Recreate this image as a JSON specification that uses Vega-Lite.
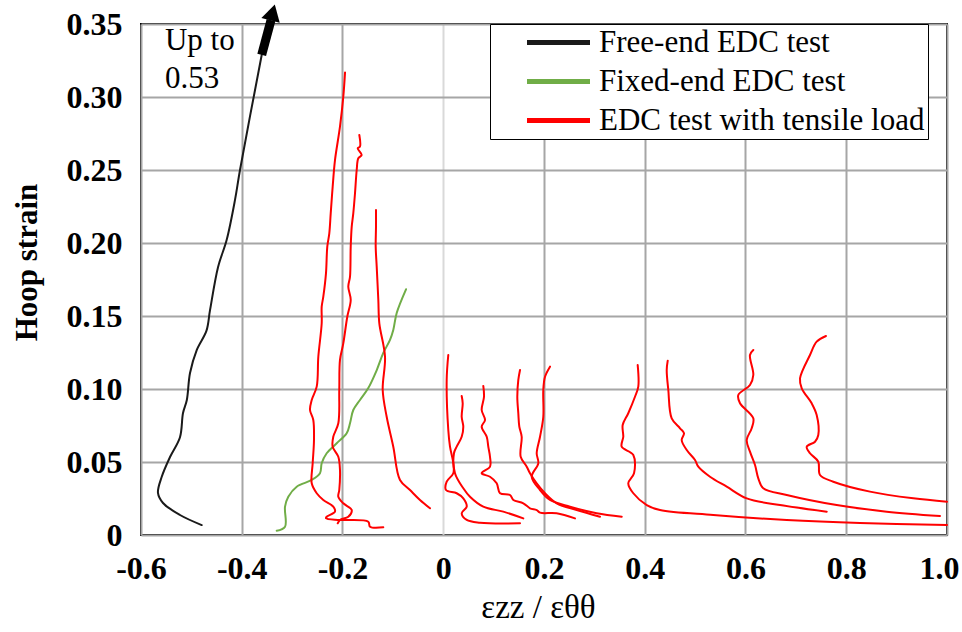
{
  "$schema": "https://vega.github.io/schema/vega-lite/v6.json",
  "autosize": {"type": "none"},
  "width": 806,
  "height": 511,
  "padding": {"left": 141, "top": 24, "right": 15, "bottom": 97},
  "background": "white",
  "config": {
    "view": {"stroke": "black", "strokeWidth": 2},
    "font": "'Liberation Serif', 'Times New Roman', serif"
  },
  "datasets": {
    "curves": [
      {"s":"Free-end EDC test","c":"k","i":1,"x":-0.3604,"y":0.3288},
      {"s":"Free-end EDC test","c":"k","i":2,"x":-0.4035,"y":0.25},
      {"s":"Free-end EDC test","c":"k","i":3,"x":-0.4134,"y":0.2295},
      {"s":"Free-end EDC test","c":"k","i":4,"x":-0.430,"y":0.202},
      {"s":"Free-end EDC test","c":"k","i":5,"x":-0.447,"y":0.1836},
      {"s":"Free-end EDC test","c":"k","i":6,"x":-0.463,"y":0.154},
      {"s":"Free-end EDC test","c":"k","i":7,"x":-0.470,"y":0.140},
      {"s":"Free-end EDC test","c":"k","i":8,"x":-0.4894,"y":0.1267},
      {"s":"Free-end EDC test","c":"k","i":9,"x":-0.5027,"y":0.111},
      {"s":"Free-end EDC test","c":"k","i":10,"x":-0.509,"y":0.0925},
      {"s":"Free-end EDC test","c":"k","i":11,"x":-0.5166,"y":0.0836},
      {"s":"Free-end EDC test","c":"k","i":12,"x":-0.5226,"y":0.067},
      {"s":"Free-end EDC test","c":"k","i":13,"x":-0.5424,"y":0.0534},
      {"s":"Free-end EDC test","c":"k","i":14,"x":-0.559,"y":0.0397},
      {"s":"Free-end EDC test","c":"k","i":15,"x":-0.5663,"y":0.0288},
      {"s":"Free-end EDC test","c":"k","i":16,"x":-0.5563,"y":0.0219},
      {"s":"Free-end EDC test","c":"k","i":17,"x":-0.5226,"y":0.0137},
      {"s":"Free-end EDC test","c":"k","i":18,"x":-0.4795,"y":0.0068},

      {"s":"Fixed-end EDC test","c":"g","i":1,"x":-0.0739,"y":0.1683},
      {"s":"Fixed-end EDC test","c":"g","i":2,"x":-0.0924,"y":0.1521},
      {"s":"Fixed-end EDC test","c":"g","i":3,"x":-0.0992,"y":0.1404},
      {"s":"Fixed-end EDC test","c":"g","i":4,"x":-0.1057,"y":0.1336},
      {"s":"Fixed-end EDC test","c":"g","i":5,"x":-0.119,"y":0.1247},
      {"s":"Fixed-end EDC test","c":"g","i":6,"x":-0.132,"y":0.113},
      {"s":"Fixed-end EDC test","c":"g","i":7,"x":-0.1488,"y":0.1007},
      {"s":"Fixed-end EDC test","c":"g","i":8,"x":-0.1653,"y":0.0925},
      {"s":"Fixed-end EDC test","c":"g","i":9,"x":-0.1786,"y":0.0856},
      {"s":"Fixed-end EDC test","c":"g","i":10,"x":-0.1851,"y":0.0765},
      {"s":"Fixed-end EDC test","c":"g","i":11,"x":-0.1917,"y":0.0697},
      {"s":"Fixed-end EDC test","c":"g","i":12,"x":-0.2115,"y":0.0628},
      {"s":"Fixed-end EDC test","c":"g","i":13,"x":-0.2314,"y":0.056},
      {"s":"Fixed-end EDC test","c":"g","i":14,"x":-0.2413,"y":0.0491},
      {"s":"Fixed-end EDC test","c":"g","i":15,"x":-0.2447,"y":0.0423},
      {"s":"Fixed-end EDC test","c":"g","i":16,"x":-0.2611,"y":0.0377},
      {"s":"Fixed-end EDC test","c":"g","i":17,"x":-0.2909,"y":0.0331},
      {"s":"Fixed-end EDC test","c":"g","i":18,"x":-0.3076,"y":0.0262},
      {"s":"Fixed-end EDC test","c":"g","i":19,"x":-0.3141,"y":0.0194},
      {"s":"Fixed-end EDC test","c":"g","i":20,"x":-0.3141,"y":0.0057},
      {"s":"Fixed-end EDC test","c":"g","i":21,"x":-0.3306,"y":0.0029},

      {"s":"EDC test with tensile load","c":"A","i":1,"x":-0.1950,"y":0.3167},
      {"s":"EDC test with tensile load","c":"A","i":2,"x":-0.1984,"y":0.3002},
      {"s":"EDC test with tensile load","c":"A","i":3,"x":-0.2050,"y":0.2797},
      {"s":"EDC test with tensile load","c":"A","i":4,"x":-0.2149,"y":0.2568},
      {"s":"EDC test with tensile load","c":"A","i":5,"x":-0.2195,"y":0.2386},
      {"s":"EDC test with tensile load","c":"A","i":6,"x":-0.2234,"y":0.2203},
      {"s":"EDC test with tensile load","c":"A","i":7,"x":-0.2262,"y":0.2066},
      {"s":"EDC test with tensile load","c":"A","i":8,"x":-0.2302,"y":0.1975},
      {"s":"EDC test with tensile load","c":"A","i":9,"x":-0.2328,"y":0.1792},
      {"s":"EDC test with tensile load","c":"A","i":10,"x":-0.2381,"y":0.1632},
      {"s":"EDC test with tensile load","c":"A","i":11,"x":-0.2413,"y":0.1564},
      {"s":"EDC test with tensile load","c":"A","i":12,"x":-0.2413,"y":0.1450},
      {"s":"EDC test with tensile load","c":"A","i":13,"x":-0.2480,"y":0.1221},
      {"s":"EDC test with tensile load","c":"A","i":14,"x":-0.2512,"y":0.1016},
      {"s":"EDC test with tensile load","c":"A","i":15,"x":-0.2611,"y":0.0925},
      {"s":"EDC test with tensile load","c":"A","i":16,"x":-0.2645,"y":0.0856},
      {"s":"EDC test with tensile load","c":"A","i":17,"x":-0.2580,"y":0.0788},
      {"s":"EDC test with tensile load","c":"A","i":18,"x":-0.2566,"y":0.0651},
      {"s":"EDC test with tensile load","c":"A","i":19,"x":-0.2592,"y":0.0491},
      {"s":"EDC test with tensile load","c":"A","i":20,"x":-0.2611,"y":0.0354},
      {"s":"EDC test with tensile load","c":"A","i":21,"x":-0.2512,"y":0.0286},
      {"s":"EDC test with tensile load","c":"A","i":22,"x":-0.2381,"y":0.0240},
      {"s":"EDC test with tensile load","c":"A","i":23,"x":-0.2183,"y":0.0194},
      {"s":"EDC test with tensile load","c":"A","i":24,"x":-0.2149,"y":0.0160},
      {"s":"EDC test with tensile load","c":"A","i":25,"x":-0.2314,"y":0.0125},
      {"s":"EDC test with tensile load","c":"A","i":26,"x":-0.2328,"y":0.0114},
      {"s":"EDC test with tensile load","c":"A","i":27,"x":-0.2050,"y":0.0103},
      {"s":"EDC test with tensile load","c":"A","i":28,"x":-0.1488,"y":0.0091},
      {"s":"EDC test with tensile load","c":"A","i":29,"x":-0.1454,"y":0.0057},
      {"s":"EDC test with tensile load","c":"A","i":30,"x":-0.1190,"y":0.0053},

      {"s":"EDC test with tensile load","c":"B","i":1,"x":-0.1666,"y":0.2740},
      {"s":"EDC test with tensile load","c":"B","i":2,"x":-0.1653,"y":0.2660},
      {"s":"EDC test with tensile load","c":"B","i":3,"x":-0.1698,"y":0.2649},
      {"s":"EDC test with tensile load","c":"B","i":4,"x":-0.1619,"y":0.2603},
      {"s":"EDC test with tensile load","c":"B","i":5,"x":-0.1686,"y":0.2580},
      {"s":"EDC test with tensile load","c":"B","i":6,"x":-0.1718,"y":0.2500},
      {"s":"EDC test with tensile load","c":"B","i":7,"x":-0.1752,"y":0.2340},
      {"s":"EDC test with tensile load","c":"B","i":8,"x":-0.1786,"y":0.2203},
      {"s":"EDC test with tensile load","c":"B","i":9,"x":-0.1817,"y":0.2112},
      {"s":"EDC test with tensile load","c":"B","i":10,"x":-0.1837,"y":0.1975},
      {"s":"EDC test with tensile load","c":"B","i":11,"x":-0.1851,"y":0.1769},
      {"s":"EDC test with tensile load","c":"B","i":12,"x":-0.1885,"y":0.1701},
      {"s":"EDC test with tensile load","c":"B","i":13,"x":-0.1837,"y":0.1610},
      {"s":"EDC test with tensile load","c":"B","i":14,"x":-0.1905,"y":0.1495},
      {"s":"EDC test with tensile load","c":"B","i":15,"x":-0.1984,"y":0.1313},
      {"s":"EDC test with tensile load","c":"B","i":16,"x":-0.2050,"y":0.1199},
      {"s":"EDC test with tensile load","c":"B","i":17,"x":-0.2064,"y":0.0993},
      {"s":"EDC test with tensile load","c":"B","i":18,"x":-0.2083,"y":0.0765},
      {"s":"EDC test with tensile load","c":"B","i":19,"x":-0.2183,"y":0.0673},
      {"s":"EDC test with tensile load","c":"B","i":20,"x":-0.2195,"y":0.0605},
      {"s":"EDC test with tensile load","c":"B","i":21,"x":-0.2083,"y":0.0536},
      {"s":"EDC test with tensile load","c":"B","i":22,"x":-0.2050,"y":0.0445},
      {"s":"EDC test with tensile load","c":"B","i":23,"x":-0.2064,"y":0.0308},
      {"s":"EDC test with tensile load","c":"B","i":24,"x":-0.2083,"y":0.0262},
      {"s":"EDC test with tensile load","c":"B","i":25,"x":-0.1984,"y":0.0217},
      {"s":"EDC test with tensile load","c":"B","i":26,"x":-0.1817,"y":0.0171},
      {"s":"EDC test with tensile load","c":"B","i":27,"x":-0.1885,"y":0.0125},
      {"s":"EDC test with tensile load","c":"B","i":28,"x":-0.2050,"y":0.0103},
      {"s":"EDC test with tensile load","c":"B","i":29,"x":-0.2095,"y":0.0080},

      {"s":"EDC test with tensile load","c":"C","i":1,"x":-0.1335,"y":0.2226},
      {"s":"EDC test with tensile load","c":"C","i":2,"x":-0.1335,"y":0.2112},
      {"s":"EDC test with tensile load","c":"C","i":3,"x":-0.1341,"y":0.1975},
      {"s":"EDC test with tensile load","c":"C","i":4,"x":-0.1321,"y":0.1838},
      {"s":"EDC test with tensile load","c":"C","i":5,"x":-0.1289,"y":0.1610},
      {"s":"EDC test with tensile load","c":"C","i":6,"x":-0.1269,"y":0.1450},
      {"s":"EDC test with tensile load","c":"C","i":7,"x":-0.1156,"y":0.1221},
      {"s":"EDC test with tensile load","c":"C","i":8,"x":-0.1202,"y":0.0993},
      {"s":"EDC test with tensile load","c":"C","i":9,"x":-0.1123,"y":0.0810},
      {"s":"EDC test with tensile load","c":"C","i":10,"x":-0.0992,"y":0.0605},
      {"s":"EDC test with tensile load","c":"C","i":11,"x":-0.0859,"y":0.0377},
      {"s":"EDC test with tensile load","c":"C","i":12,"x":-0.0660,"y":0.0308},
      {"s":"EDC test with tensile load","c":"C","i":13,"x":-0.0462,"y":0.0240},
      {"s":"EDC test with tensile load","c":"C","i":14,"x":-0.0263,"y":0.0183},

      {"s":"EDC test with tensile load","c":"D","i":1,"x":0.0100,"y":0.1233},
      {"s":"EDC test with tensile load","c":"D","i":2,"x":0.0068,"y":0.1062},
      {"s":"EDC test with tensile load","c":"D","i":3,"x":0.0100,"y":0.0719},
      {"s":"EDC test with tensile load","c":"D","i":4,"x":0.0134,"y":0.0605},
      {"s":"EDC test with tensile load","c":"D","i":5,"x":0.0200,"y":0.0491},
      {"s":"EDC test with tensile load","c":"D","i":6,"x":0.0200,"y":0.0423},
      {"s":"EDC test with tensile load","c":"D","i":7,"x":0.0068,"y":0.0365},
      {"s":"EDC test with tensile load","c":"D","i":8,"x":0.0055,"y":0.0308},
      {"s":"EDC test with tensile load","c":"D","i":9,"x":0.0267,"y":0.0286},
      {"s":"EDC test with tensile load","c":"D","i":10,"x":0.0398,"y":0.0251},
      {"s":"EDC test with tensile load","c":"D","i":11,"x":0.0466,"y":0.0194},
      {"s":"EDC test with tensile load","c":"D","i":12,"x":0.0366,"y":0.0149},
      {"s":"EDC test with tensile load","c":"D","i":13,"x":0.0466,"y":0.0103},
      {"s":"EDC test with tensile load","c":"D","i":14,"x":0.0730,"y":0.0084},
      {"s":"EDC test with tensile load","c":"D","i":15,"x":0.1524,"y":0.0080},

      {"s":"EDC test with tensile load","c":"E","i":1,"x":0.0366,"y":0.0952},
      {"s":"EDC test with tensile load","c":"E","i":2,"x":0.0386,"y":0.0902},
      {"s":"EDC test with tensile load","c":"E","i":3,"x":0.0366,"y":0.0810},
      {"s":"EDC test with tensile load","c":"E","i":4,"x":0.0398,"y":0.0742},
      {"s":"EDC test with tensile load","c":"E","i":5,"x":0.0366,"y":0.0673},
      {"s":"EDC test with tensile load","c":"E","i":6,"x":0.0267,"y":0.0605},
      {"s":"EDC test with tensile load","c":"E","i":7,"x":0.0213,"y":0.0560},
      {"s":"EDC test with tensile load","c":"E","i":8,"x":0.0233,"y":0.0423},
      {"s":"EDC test with tensile load","c":"E","i":9,"x":0.0398,"y":0.0320},
      {"s":"EDC test with tensile load","c":"E","i":10,"x":0.0531,"y":0.0262},
      {"s":"EDC test with tensile load","c":"E","i":11,"x":0.0795,"y":0.0194},
      {"s":"EDC test with tensile load","c":"E","i":12,"x":0.1192,"y":0.0160},
      {"s":"EDC test with tensile load","c":"E","i":13,"x":0.1589,"y":0.0114},

      {"s":"EDC test with tensile load","c":"F","i":1,"x":0.0795,"y":0.1021},
      {"s":"EDC test with tensile load","c":"F","i":2,"x":0.0809,"y":0.0947},
      {"s":"EDC test with tensile load","c":"F","i":3,"x":0.0763,"y":0.0856},
      {"s":"EDC test with tensile load","c":"F","i":4,"x":0.0829,"y":0.0788},
      {"s":"EDC test with tensile load","c":"F","i":5,"x":0.0763,"y":0.0742},
      {"s":"EDC test with tensile load","c":"F","i":6,"x":0.0863,"y":0.0673},
      {"s":"EDC test with tensile load","c":"F","i":7,"x":0.0894,"y":0.0605},
      {"s":"EDC test with tensile load","c":"F","i":8,"x":0.0928,"y":0.0536},
      {"s":"EDC test with tensile load","c":"F","i":9,"x":0.0928,"y":0.0468},
      {"s":"EDC test with tensile load","c":"F","i":10,"x":0.0763,"y":0.0423},
      {"s":"EDC test with tensile load","c":"F","i":11,"x":0.0928,"y":0.0399},
      {"s":"EDC test with tensile load","c":"F","i":12,"x":0.1061,"y":0.0354},
      {"s":"EDC test with tensile load","c":"F","i":13,"x":0.1127,"y":0.0286},
      {"s":"EDC test with tensile load","c":"F","i":14,"x":0.1325,"y":0.0274},
      {"s":"EDC test with tensile load","c":"F","i":15,"x":0.1391,"y":0.0240},
      {"s":"EDC test with tensile load","c":"F","i":16,"x":0.1589,"y":0.0217},
      {"s":"EDC test with tensile load","c":"F","i":17,"x":0.1722,"y":0.0183},
      {"s":"EDC test with tensile load","c":"F","i":18,"x":0.1855,"y":0.0171},
      {"s":"EDC test with tensile load","c":"F","i":19,"x":0.1921,"y":0.0153},
      {"s":"EDC test with tensile load","c":"F","i":20,"x":0.2252,"y":0.0149},
      {"s":"EDC test with tensile load","c":"F","i":21,"x":0.2615,"y":0.0114},

      {"s":"EDC test with tensile load","c":"G","i":1,"x":0.1524,"y":0.1130},
      {"s":"EDC test with tensile load","c":"G","i":2,"x":0.1490,"y":0.1062},
      {"s":"EDC test with tensile load","c":"G","i":3,"x":0.1470,"y":0.0947},
      {"s":"EDC test with tensile load","c":"G","i":4,"x":0.1490,"y":0.0834},
      {"s":"EDC test with tensile load","c":"G","i":5,"x":0.1510,"y":0.0742},
      {"s":"EDC test with tensile load","c":"G","i":6,"x":0.1557,"y":0.0673},
      {"s":"EDC test with tensile load","c":"G","i":7,"x":0.1537,"y":0.0536},
      {"s":"EDC test with tensile load","c":"G","i":8,"x":0.1657,"y":0.0468},
      {"s":"EDC test with tensile load","c":"G","i":9,"x":0.1722,"y":0.0423},
      {"s":"EDC test with tensile load","c":"G","i":10,"x":0.1855,"y":0.0354},
      {"s":"EDC test with tensile load","c":"G","i":11,"x":0.2020,"y":0.0286},
      {"s":"EDC test with tensile load","c":"G","i":12,"x":0.2252,"y":0.0217},
      {"s":"EDC test with tensile load","c":"G","i":13,"x":0.2649,"y":0.0171},
      {"s":"EDC test with tensile load","c":"G","i":14,"x":0.3112,"y":0.0125},

      {"s":"EDC test with tensile load","c":"H","i":1,"x":0.2119,"y":0.1153},
      {"s":"EDC test with tensile load","c":"H","i":2,"x":0.2020,"y":0.1084},
      {"s":"EDC test with tensile load","c":"H","i":3,"x":0.1986,"y":0.0993},
      {"s":"EDC test with tensile load","c":"H","i":4,"x":0.1986,"y":0.0810},
      {"s":"EDC test with tensile load","c":"H","i":5,"x":0.1921,"y":0.0673},
      {"s":"EDC test with tensile load","c":"H","i":6,"x":0.1855,"y":0.0560},
      {"s":"EDC test with tensile load","c":"H","i":7,"x":0.1887,"y":0.0491},
      {"s":"EDC test with tensile load","c":"H","i":8,"x":0.1756,"y":0.0399},
      {"s":"EDC test with tensile load","c":"H","i":9,"x":0.1921,"y":0.0308},
      {"s":"EDC test with tensile load","c":"H","i":10,"x":0.2119,"y":0.0240},
      {"s":"EDC test with tensile load","c":"H","i":11,"x":0.2516,"y":0.0194},
      {"s":"EDC test with tensile load","c":"H","i":12,"x":0.3046,"y":0.0149},
      {"s":"EDC test with tensile load","c":"H","i":13,"x":0.3543,"y":0.0125},

      {"s":"EDC test with tensile load","c":"I","i":1,"x":0.3860,"y":0.1164},
      {"s":"EDC test with tensile load","c":"I","i":2,"x":0.3872,"y":0.1016},
      {"s":"EDC test with tensile load","c":"I","i":3,"x":0.3806,"y":0.0947},
      {"s":"EDC test with tensile load","c":"I","i":4,"x":0.3673,"y":0.0834},
      {"s":"EDC test with tensile load","c":"I","i":5,"x":0.3562,"y":0.0753},
      {"s":"EDC test with tensile load","c":"I","i":6,"x":0.3574,"y":0.0673},
      {"s":"EDC test with tensile load","c":"I","i":7,"x":0.3542,"y":0.0605},
      {"s":"EDC test with tensile load","c":"I","i":8,"x":0.3773,"y":0.0548},
      {"s":"EDC test with tensile load","c":"I","i":9,"x":0.3787,"y":0.0423},
      {"s":"EDC test with tensile load","c":"I","i":10,"x":0.3673,"y":0.0354},
      {"s":"EDC test with tensile load","c":"I","i":11,"x":0.3773,"y":0.0286},
      {"s":"EDC test with tensile load","c":"I","i":12,"x":0.4039,"y":0.0205},
      {"s":"EDC test with tensile load","c":"I","i":13,"x":0.4303,"y":0.0171},
      {"s":"EDC test with tensile load","c":"I","i":14,"x":0.5361,"y":0.0137},
      {"s":"EDC test with tensile load","c":"I","i":15,"x":0.6818,"y":0.0103},
      {"s":"EDC test with tensile load","c":"I","i":16,"x":0.8273,"y":0.0082},
      {"s":"EDC test with tensile load","c":"I","i":17,"x":1.0,"y":0.0068},

      {"s":"EDC test with tensile load","c":"J","i":1,"x":0.4456,"y":0.1194},
      {"s":"EDC test with tensile load","c":"J","i":2,"x":0.4436,"y":0.1130},
      {"s":"EDC test with tensile load","c":"J","i":3,"x":0.4468,"y":0.0993},
      {"s":"EDC test with tensile load","c":"J","i":4,"x":0.4535,"y":0.0799},
      {"s":"EDC test with tensile load","c":"J","i":5,"x":0.4700,"y":0.0731},
      {"s":"EDC test with tensile load","c":"J","i":6,"x":0.4779,"y":0.0697},
      {"s":"EDC test with tensile load","c":"J","i":7,"x":0.4733,"y":0.0651},
      {"s":"EDC test with tensile load","c":"J","i":8,"x":0.4833,"y":0.0582},
      {"s":"EDC test with tensile load","c":"J","i":9,"x":0.4998,"y":0.0514},
      {"s":"EDC test with tensile load","c":"J","i":10,"x":0.5063,"y":0.0468},
      {"s":"EDC test with tensile load","c":"J","i":11,"x":0.5295,"y":0.0399},
      {"s":"EDC test with tensile load","c":"J","i":12,"x":0.5627,"y":0.0331},
      {"s":"EDC test with tensile load","c":"J","i":13,"x":0.6024,"y":0.0251},
      {"s":"EDC test with tensile load","c":"J","i":14,"x":0.6685,"y":0.0205},
      {"s":"EDC test with tensile load","c":"J","i":15,"x":0.7612,"y":0.0160},

      {"s":"EDC test with tensile load","c":"K","i":1,"x":0.6155,"y":0.1267},
      {"s":"EDC test with tensile load","c":"K","i":2,"x":0.6089,"y":0.1233},
      {"s":"EDC test with tensile load","c":"K","i":3,"x":0.6155,"y":0.1096},
      {"s":"EDC test with tensile load","c":"K","i":4,"x":0.6089,"y":0.1027},
      {"s":"EDC test with tensile load","c":"K","i":5,"x":0.5857,"y":0.0959},
      {"s":"EDC test with tensile load","c":"K","i":6,"x":0.5891,"y":0.0902},
      {"s":"EDC test with tensile load","c":"K","i":7,"x":0.6155,"y":0.0799},
      {"s":"EDC test with tensile load","c":"K","i":8,"x":0.6123,"y":0.0731},
      {"s":"EDC test with tensile load","c":"K","i":9,"x":0.6024,"y":0.0651},
      {"s":"EDC test with tensile load","c":"K","i":10,"x":0.6089,"y":0.0571},
      {"s":"EDC test with tensile load","c":"K","i":11,"x":0.6189,"y":0.0479},
      {"s":"EDC test with tensile load","c":"K","i":12,"x":0.6254,"y":0.0388},
      {"s":"EDC test with tensile load","c":"K","i":13,"x":0.6353,"y":0.0320},
      {"s":"EDC test with tensile load","c":"K","i":14,"x":0.6818,"y":0.0274},
      {"s":"EDC test with tensile load","c":"K","i":15,"x":0.7810,"y":0.0205},
      {"s":"EDC test with tensile load","c":"K","i":16,"x":0.8803,"y":0.0160},
      {"s":"EDC test with tensile load","c":"K","i":17,"x":0.9861,"y":0.0130},

      {"s":"EDC test with tensile load","c":"L","i":1,"x":0.7598,"y":0.1363},
      {"s":"EDC test with tensile load","c":"L","i":2,"x":0.7413,"y":0.1324},
      {"s":"EDC test with tensile load","c":"L","i":3,"x":0.7280,"y":0.1233},
      {"s":"EDC test with tensile load","c":"L","i":4,"x":0.7082,"y":0.1073},
      {"s":"EDC test with tensile load","c":"L","i":5,"x":0.7116,"y":0.1005},
      {"s":"EDC test with tensile load","c":"L","i":6,"x":0.7314,"y":0.0902},
      {"s":"EDC test with tensile load","c":"L","i":7,"x":0.7413,"y":0.0822},
      {"s":"EDC test with tensile load","c":"L","i":8,"x":0.7445,"y":0.0685},
      {"s":"EDC test with tensile load","c":"L","i":9,"x":0.7380,"y":0.0639},
      {"s":"EDC test with tensile load","c":"L","i":10,"x":0.7215,"y":0.0605},
      {"s":"EDC test with tensile load","c":"L","i":11,"x":0.7280,"y":0.0560},
      {"s":"EDC test with tensile load","c":"L","i":12,"x":0.7445,"y":0.0502},
      {"s":"EDC test with tensile load","c":"L","i":13,"x":0.7479,"y":0.0411},
      {"s":"EDC test with tensile load","c":"L","i":14,"x":0.7743,"y":0.0365},
      {"s":"EDC test with tensile load","c":"L","i":15,"x":0.8471,"y":0.0297},
      {"s":"EDC test with tensile load","c":"L","i":16,"x":0.9331,"y":0.0251},
      {"s":"EDC test with tensile load","c":"L","i":17,"x":1.0,"y":0.0228}
    ],
    "arrow": [{"x": -0.3604, "y": 0.3288, "x2": -0.3419, "y2": 0.3527}],
    "head": [{"x": -0.3386, "y": 0.3579}],
    "notes": [
      {"t": "Up to", "x": -0.5524, "y": 0.3322},
      {"t": "0.53", "x": -0.5524, "y": 0.3062}
    ]
  },
  "layer": [
    {
      "data": {"name": "curves"},
      "mark": {"type": "line", "strokeWidth": 2, "interpolate": "catmull-rom", "strokeJoin": "round", "strokeCap": "round"},
      "encoding": {
        "x": {
          "field": "x", "type": "quantitative",
          "scale": {"domain": [-0.6, 1.0], "nice": false, "zero": false},
          "axis": {
            "values": [-0.6, -0.4, -0.2, 0, 0.2, 0.4, 0.6, 0.8, 1.0],
            "labelExpr": "datum.value === 0 ? '0' : replace(format(datum.value, '.1f'), '\u2212', '-')",
            "domain": false, "ticks": false,
            "grid": true,
            "gridColor": {"condition": {"test": "datum.value === 0", "value": "#d9d9d9"}, "value": "#a6a6a6"},
            "gridWidth": 2,
            "labelFont": "'Liberation Serif', 'Times New Roman', serif", "labelFontWeight": "bold", "labelFontSize": 32, "labelColor": "black",
            "labelPadding": 18, "labelFlush": false,
            "labelAlign": {"condition": {"test": "datum.value === 1", "value": "right"}, "value": "center"},
            "labelOffset": {"condition": {"test": "datum.value === 1", "value": 12}, "value": 0},
            "title": "εzz / εθθ",
            "titleFont": "'Liberation Serif', 'Times New Roman', serif", "titleFontWeight": "normal", "titleFontSize": 33, "titleColor": "black",
            "titleX": 397, "titleY": 72, "titleBaseline": "middle", "titleAlign": "center"
          }
        },
        "y": {
          "field": "y", "type": "quantitative",
          "scale": {"domain": [0, 0.35], "nice": false},
          "axis": {
            "values": [0, 0.05, 0.1, 0.15, 0.2, 0.25, 0.3, 0.35],
            "labelExpr": "datum.value === 0 ? '0' : format(datum.value, '.2f')",
            "domain": false, "ticks": false,
            "grid": true, "gridColor": "#a6a6a6", "gridWidth": 2,
            "labelFont": "'Liberation Serif', 'Times New Roman', serif", "labelFontWeight": "bold", "labelFontSize": 32, "labelColor": "black",
            "labelPadding": 19, "labelFlush": false,
            "title": "Hoop strain",
            "titleFont": "'Liberation Serif', 'Times New Roman', serif", "titleFontWeight": "bold", "titleFontSize": 31, "titleColor": "black",
            "titleAngle": -90, "titleX": -114, "titleY": 238, "titleBaseline": "middle", "titleAlign": "center"
          }
        },
        "color": {
          "field": "s", "type": "nominal",
          "scale": {
            "domain": ["Free-end EDC test", "Fixed-end EDC test", "EDC test with tensile load"],
            "range": ["#1a1a1a", "#70ad47", "#ff0000"]
          },
          "legend": {
            "title": null,
            "orient": "none", "legendX": 349, "legendY": 0,
            "fillColor": "white", "strokeColor": "black",
            "padding": 3,
            "symbolType": "M-3,0H3", "symbolSize": 441, "symbolStrokeWidth": 5,
            "symbolOffset": 50, "labelOffset": 25,
            "labelFont": "'Liberation Serif', 'Times New Roman', serif", "labelFontSize": 31, "labelColor": "black", "labelLimit": 500,
            "rowPadding": 7
          }
        },
        "detail": {"field": "c"},
        "order": {"field": "i", "type": "quantitative"}
      }
    },
    {
      "data": {"name": "arrow"},
      "mark": {"type": "rule", "strokeWidth": 9, "color": "black"},
      "encoding": {
        "x": {"field": "x", "type": "quantitative"},
        "y": {"field": "y", "type": "quantitative"},
        "x2": {"field": "x2"},
        "y2": {"field": "y2"}
      }
    },
    {
      "data": {"name": "head"},
      "mark": {"type": "point", "shape": "triangle-up", "filled": true, "color": "black", "opacity": 1, "size": 360, "angle": 15},
      "encoding": {
        "x": {"field": "x", "type": "quantitative"},
        "y": {"field": "y", "type": "quantitative"}
      }
    },
    {
      "data": {"name": "notes"},
      "mark": {"type": "text", "align": "left", "baseline": "alphabetic", "font": "'Liberation Serif', 'Times New Roman', serif", "fontSize": 31, "color": "black"},
      "encoding": {
        "x": {"field": "x", "type": "quantitative"},
        "y": {"field": "y", "type": "quantitative"},
        "text": {"field": "t"}
      }
    }
  ]
}
